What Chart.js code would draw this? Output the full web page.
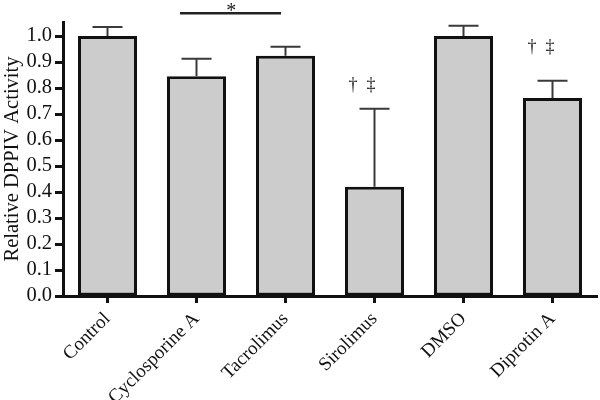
<!DOCTYPE html>
<html>
<head>
<meta charset="utf-8">
<script src="https://cdn.jsdelivr.net/npm/chart.js@4.4.1/dist/chart.umd.min.js"></script>
<style>
  html, body { margin: 0; padding: 0; background: #fff; }
  #wrap { width: 600px; height: 400px; }
</style>
</head>
<body>
<div id="wrap"><canvas id="myChart" width="600" height="400"></canvas></div>
<script>
const labels = ["Control", "Cyclosporine A", "Tacrolimus", "Sirolimus", "DMSO", "Diprotin A"];
const activity = [1.0, 0.845, 0.924, 0.42, 1.0, 0.762];
const errUpper = [0.035, 0.068, 0.035, 0.30, 0.040, 0.066];
const yTicks = [0, 0.1, 0.2, 0.3, 0.4, 0.5, 0.6, 0.7, 0.8, 0.9, 1.0];

// significance marks: [category index (fractional), value, text]
const sigBracket = [0.815, 1.95, 1.088];
const sigStar = [1.39, 1.092, "*"];
const daggers = [
  [3 - 0.14, 0.81, "†  ‡"],
  [5 - 0.13, 0.955, "†  ‡"],
];

const serif = "'Liberation Serif', 'DejaVu Serif', serif";

const errorBars = {
  id: "errorBars",
  afterDatasetsDraw(chart) {
    const c = chart.ctx;
    const x = chart.scales.x, y = chart.scales.y;
    c.save();
    c.strokeStyle = "#3a3a3a";
    c.lineWidth = 2;
    activity.forEach((v, i) => {
      const px = x.getPixelForValue(i);
      const top = y.getPixelForValue(v + errUpper[i]);
      const base = y.getPixelForValue(v);
      c.beginPath();
      c.moveTo(px, base);
      c.lineTo(px, top);
      c.moveTo(px - 15, top);
      c.lineTo(px + 15, top);
      c.stroke();
    });
    // bracket + marks
    const by = y.getPixelForValue(sigBracket[2]);
    c.strokeStyle = "#222";
    c.lineWidth = 2.5;
    c.beginPath();
    c.moveTo(x.getPixelForValue(sigBracket[0]), by);
    c.lineTo(x.getPixelForValue(sigBracket[1]), by);
    c.stroke();
    c.fillStyle = "#222";
    c.textAlign = "center";
    c.textBaseline = "middle";
    c.font = "20px " + serif;
    c.fillText(sigStar[2], x.getPixelForValue(sigStar[0]), y.getPixelForValue(sigStar[1]));
    c.font = "18px " + serif;
    daggers.forEach(d => {
      c.fillText(d[2], x.getPixelForValue(d[0]), y.getPixelForValue(d[1]));
    });
    c.restore();
  }
};

const data = {
  labels: labels,
  datasets: [
    {
      data: activity,
      backgroundColor: "#cccccc",
      borderColor: "#111",
      borderWidth: 3,
      borderSkipped: false,
      barPercentage: 0.663,
      categoryPercentage: 1.0,
    },
  ],
};

const config = {
  type: "bar",
  data: data,
  options: {
    responsive: false,
    animation: false,
    layout: { padding: { top: 22, right: 3, left: 0, bottom: 0 } },
    plugins: {
      legend: { display: false },
      tooltip: { enabled: false },
    },
    scales: {
      x: {
        afterFit(scale) { scale.height = 104; },
        grid: {
          offset: false,
          drawOnChartArea: false,
          drawTicks: true,
          tickLength: 7,
          tickWidth: 3,
          color: "#111",
        },
        border: { display: true, color: "#111", width: 3 },
        ticks: {
          autoSkip: false,
          minRotation: 45,
          maxRotation: 45,
          padding: 5,
          color: "#111",
          font: { family: serif, size: 19 },
        },
      },
      y: {
        min: 0,
        max: 1.054,
        afterFit(scale) { scale.width = 63; },
        afterBuildTicks(scale) { scale.ticks = yTicks.map(v => ({ value: v })); },
        grid: {
          drawOnChartArea: false,
          drawTicks: true,
          tickLength: 8,
          tickWidth: 3,
          color: "#111",
        },
        border: { display: true, color: "#111", width: 3 },
        ticks: {
          autoSkip: false,
          padding: 3,
          color: "#111",
          font: { family: serif, size: 20.5 },
          callback: v => Number(v).toFixed(1),
        },
        title: {
          display: true,
          text: "Relative DPPIV Activity",
          color: "#111",
          padding: { top: 0, bottom: 0 },
          font: { family: serif, size: 20.5 },
        },
      },
    },
  },
  plugins: [errorBars],
};

const ctx = document.getElementById("myChart");
const myChart = new Chart(ctx, config);
</script>
</body>
</html>
